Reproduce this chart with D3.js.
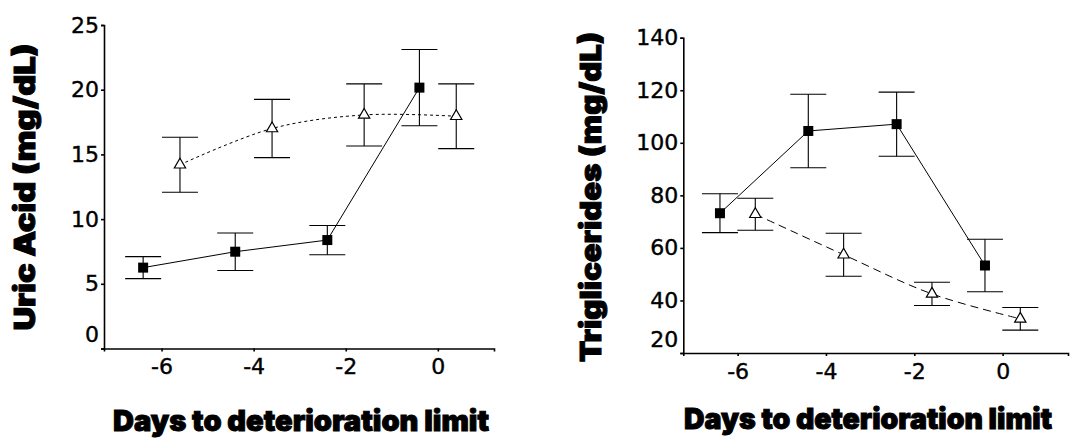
<!DOCTYPE html>
<html>
<head>
<meta charset="utf-8">
<script src="https://cdn.jsdelivr.net/npm/d3@7"></script>
<style>
  body { margin: 0; background: #fff; }
  svg { display: block; }
  .tick text { font-family: "DejaVu Sans", sans-serif; font-size: 22px; fill: #000; stroke: #000; stroke-width: 0.4px; }
  .title { font-family: Inter, Roboto, "DejaVu Sans", sans-serif; font-weight: 900; fill: #000; stroke: #000; stroke-width: 1px; }
</style>
</head>
<body>
<div id="container"></div>
<script>
// x positions (days) of the two groups, plotted side by side
const xSquare = [-6.4, -4.4, -2.4, -0.4];
const xTriangle = [-5.6, -3.6, -1.6, 0.4];
const xTickValues = [-6, -4, -2, 0];

// Uric acid (mg/dL)
const uricSquare = [6.25, 7.48, 8.38, 20.16];
const uricSquareErr = [0.85, 1.45, 1.13, 2.95];
const uricTriangle = [14.2, 17.0, 18.05, 17.95];
const uricTriangleErr = [2.13, 2.25, 2.4, 2.5];
const uricTicks = [0, 5, 10, 15, 20, 25];

// Triglicerides (mg/dL)
const trigSquare = [73.2, 104.5, 107.1, 53.3];
const trigSquareErr = [7.4, 14, 12.2, 10];
const trigTriangle = [72.8, 57.4, 42.5, 33.0];
const trigTriangleErr = [6.1, 8.2, 4.4, 4.3];
const trigTicks = [20, 40, 60, 80, 100, 120, 140];

const svg = d3.select('#container')
    .append('svg').attr('width', 1070).attr('height', 439)

const drawPanel = (specs) => {
    const x = d3.scaleLinear().domain(specs.xDomain).range(specs.xRange);
    const y = d3.scaleLinear().domain(specs.yDomain).range(specs.yRange);
    const g = svg.append('g');

    // axes
    const xAxis = g.append('g')
        .attr('transform', `translate(0,${specs.yRange[0]})`)
        .call(d3.axisBottom(x).tickValues(xTickValues).tickFormat(d3.format('d'))
            .tickSize(3).tickPadding(7));
    const yAxis = g.append('g')
        .attr('transform', `translate(${specs.xRange[0]},0)`)
        .call(d3.axisLeft(y).tickValues(specs.yTicks).tickSize(3).tickPadding(2));
    [xAxis, yAxis].forEach(a => {
        a.select('.domain').attr('stroke', '#000').attr('stroke-width', 1.6);
        a.selectAll('.tick line').attr('stroke', '#000').attr('stroke-width', 1.6);
    });
    xAxis.selectAll('.tick text').text(d => d < 0 ? '-' + Math.abs(d) : d);
    // lowest y label sits a bit above the corner
    yAxis.selectAll('.tick text').filter(d => d === specs.yDomain[0])
        .attr('dy', '-0.3em');

    const series = [
        { xs: xSquare, ys: specs.sq, err: specs.sqErr, dash: null, curve: d3.curveLinear, mark: 'square' },
        { xs: xTriangle, ys: specs.tri, err: specs.triErr, dash: specs.triDash, curve: specs.triCurve, mark: 'triangle' }
    ];

    series.forEach(s => {
        const pts = s.ys.map((v, i) => [s.xs[i], v, s.err[i]]);
        const line = d3.line().x(d => x(d[0])).y(d => y(d[1])).curve(s.curve);
        g.append('path')
            .attr('d', line(pts))
            .attr('fill', 'none')
            .attr('stroke', '#000')
            .attr('stroke-width', 1)
            .attr('stroke-dasharray', s.dash);

        // error bars
        const eb = g.append('g').attr('stroke', '#000').attr('stroke-width', 1.1);
        pts.forEach(d => {
            const cx = x(d[0]);
            eb.append('line').attr('x1', cx).attr('x2', cx)
                .attr('y1', y(d[1] + d[2])).attr('y2', y(d[1] - d[2]));
            [d[1] + d[2], d[1] - d[2]].forEach(v => {
                eb.append('line').attr('x1', cx - 18).attr('x2', cx + 18)
                    .attr('y1', y(v)).attr('y2', y(v));
            });
        });

        // markers
        if (s.mark === 'square') {
            g.selectAll(null).data(pts).join('rect')
                .attr('x', d => x(d[0]) - 5).attr('y', d => y(d[1]) - 5)
                .attr('width', 10).attr('height', 10)
                .attr('fill', '#000');
        } else {
            const tri = d3.symbol().type(d3.symbolTriangle).size(55);
            g.selectAll(null).data(pts).join('path')
                .attr('d', tri)
                .attr('transform', d => `translate(${x(d[0])},${y(d[1])})`)
                .attr('fill', '#fff')
                .attr('stroke', '#000')
                .attr('stroke-width', 1.2);
        }
    });

    // titles
    g.append('text').attr('class', 'title')
        .attr('transform', `translate(${specs.yTitlePos[0]},${specs.yTitlePos[1]}) rotate(-90)`)
        .attr('text-anchor', 'middle')
        .attr('dy', '0.35em')
        .attr('textLength', specs.yTitleLen)
        .attr('lengthAdjust', 'spacingAndGlyphs')
        .style('font-size', '29px')
        .text(specs.yTitle);
    g.append('text').attr('class', 'title')
        .attr('x', specs.xTitlePos[0]).attr('y', specs.xTitlePos[1])
        .attr('text-anchor', 'middle')
        .attr('textLength', specs.xTitleLen)
        .attr('lengthAdjust', 'spacingAndGlyphs')
        .style('font-size', '29px')
        .text('Days to deterioration limit');
}

drawPanel({
    xDomain: [-7.25, 1.22], xRange: [104, 494],
    yDomain: [0, 25], yRange: [348.5, 25], yTicks: uricTicks,
    sq: uricSquare, sqErr: uricSquareErr, tri: uricTriangle, triErr: uricTriangleErr,
    triDash: '3,3', triCurve: d3.curveCatmullRom,
    yTitle: 'Uric Acid (mg/dL)', yTitleLen: 287, yTitlePos: [25, 187],
    xTitleLen: 376, xTitlePos: [301, 431]
});

drawPanel({
    xDomain: [-7.23, 1.48], xRange: [683.3, 1068],
    yDomain: [20, 140], yRange: [353, 37.7], yTicks: trigTicks,
    sq: trigSquare, sqErr: trigSquareErr, tri: trigTriangle, triErr: trigTriangleErr,
    triDash: '8,5', triCurve: d3.curveCatmullRom,
    yTitle: 'Triglicerides (mg/dL)', yTitleLen: 330, yTitlePos: [591, 197],
    xTitleLen: 368, xTitlePos: [868, 429]
});
</script>
</body>
</html>
